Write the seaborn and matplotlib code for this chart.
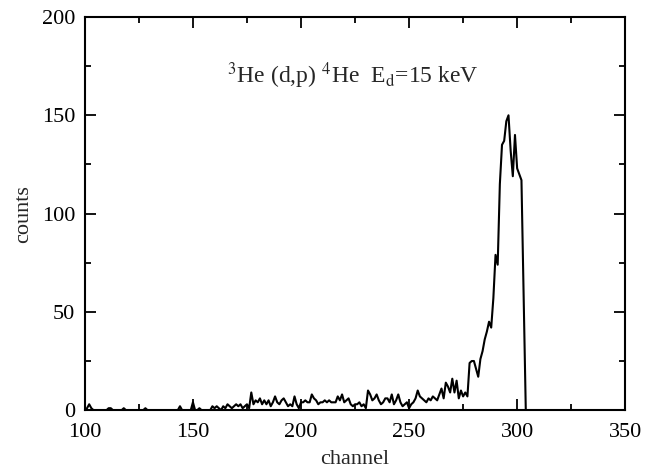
import numpy as np
import pandas as pd
import matplotlib
matplotlib.use("Agg")
import matplotlib.pyplot as plt
from matplotlib.ticker import MultipleLocator
import seaborn as sns

# Spectrum counts per channel, channel 100 .. 304
first_channel = 100
counts = [
    0, 1, 3, 1, 0, 0, 0, 0, 0, 0,        # 100-109
    0, 1, 1, 0, 0, 0, 0, 0, 1, 0,        # 110-119
    0, 0, 0, 0, 0, 0, 0, 0, 1, 0,        # 120-129
    0, 0, 0, 0, 0, 0, 0, 0, 0, 0,        # 130-139
    0, 0, 0, 0, 2, 0, 0, 0, 0, 0,        # 140-149
    4, 0, 0, 1, 0, 0, 0, 0, 0, 2,        # 150-159
    1, 2, 1, 0, 2, 1, 3, 2, 1, 2,        # 160-169
    3, 2, 3, 1, 2, 3, 1, 9, 3, 5,        # 170-179
    4, 6, 3, 5, 3, 5, 2, 4, 7, 4,        # 180-189
    3, 5, 6, 4, 2, 3, 2, 7, 3, 1,        # 190-199
    4, 4, 5, 4, 4, 8, 6, 5, 3, 4,        # 200-209
    4, 5, 4, 5, 4, 4, 4, 7, 5, 8,        # 210-219
    4, 5, 6, 3, 2, 3, 3, 4, 2, 3,        # 220-229
    1, 10, 8, 5, 6, 8, 5, 3, 4, 6,       # 230-239
    6, 4, 8, 3, 5, 8, 4, 2, 3, 4,        # 240-249
    1, 3, 4, 6, 10, 7, 6, 5, 4, 6,       # 250-259
    5, 7, 6, 5, 8, 11, 6, 14, 12, 9,     # 260-269
    16, 9, 15, 6, 10, 7, 9, 7, 24, 25,   # 270-279
    25, 21, 17, 26, 30, 36, 40, 45, 42, 57,   # 280-289
    79, 74, 115, 135, 137, 147, 150, 132, 119, 140,  # 290-299
    123, 120, 117, 58, 0,                # 300-304
]
channels = np.arange(first_channel, first_channel + len(counts))

df = pd.DataFrame({"channel": channels, "counts": counts})

sns.set_style("ticks")
plt.rcParams["font.family"] = ["Liberation Serif", "DejaVu Serif"]
plt.rcParams["mathtext.fontset"] = "stix"

fig = plt.figure(figsize=(6.63, 4.72), dpi=100)
ax = fig.add_axes([0.128, 0.131, 0.815, 0.833])

sns.lineplot(data=df, x="channel", y="counts", color="black",
             linewidth=1.5, ax=ax)

ax.set_xlim(100, 350)
ax.set_ylim(0, 200)
ax.xaxis.set_major_locator(MultipleLocator(50))
ax.xaxis.set_minor_locator(MultipleLocator(25))
ax.yaxis.set_major_locator(MultipleLocator(50))
ax.yaxis.set_minor_locator(MultipleLocator(25))
ax.tick_params(which="both", direction="in", top=True, right=True,
               width=1.3, labelsize=16, colors="black")
ax.tick_params(which="major", length=8)
ax.tick_params(axis="x", which="major", pad=9)
ax.tick_params(axis="y", which="major", pad=7)
ax.tick_params(which="minor", length=4)
for s in ax.spines.values():
    s.set_linewidth(1.5)
    s.set_color("black")

ax.set_xlabel("channel", fontsize=16, labelpad=6)
ax.set_ylabel("counts", fontsize=16, labelpad=6)

ax.text(224, 170, r"$^{3}$He (d,p) $^{4}$He  E$_{\rm d}$=15 keV",
        fontsize=17, ha="center", va="center")

fig.savefig("out.png", dpi=100)
